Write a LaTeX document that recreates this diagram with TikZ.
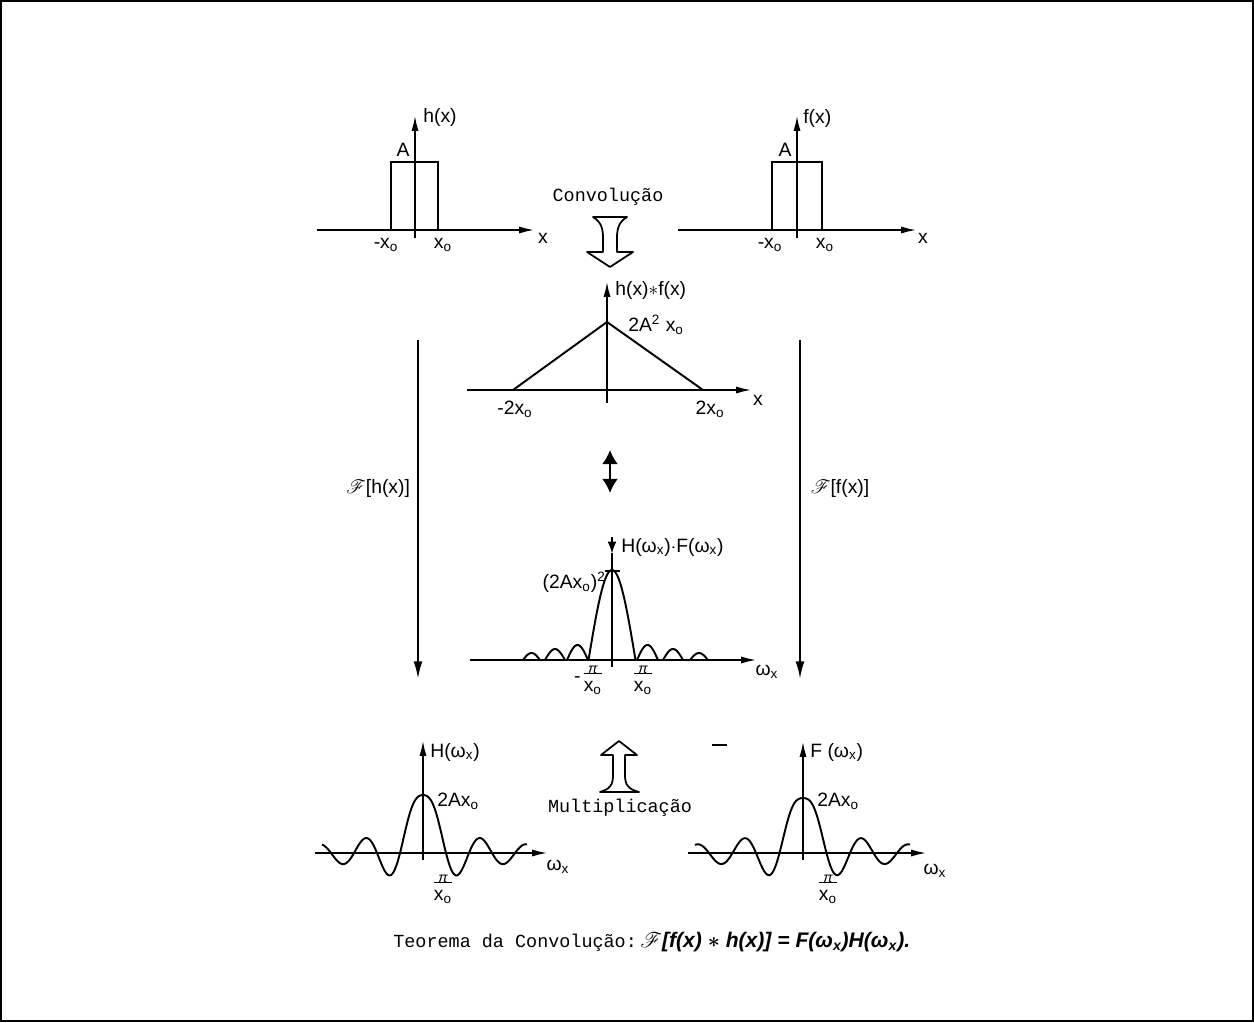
\documentclass[tikz,border=0pt]{standalone}
\usepackage{fontspec}
\setmainfont{Liberation Sans}
\setmonofont{Liberation Mono}
\usepackage{mathrsfs}
\usetikzlibrary{arrows.meta}
\newcommand{\xo}{x\textsubscript{o}}
\newcommand{\wx}{ω\textsubscript{x}}
\newcommand{\pix}{\begin{tabular}{@{}c@{}}{\footnotesize\itshape π}\\[-4pt]\hline\rule{0pt}{10pt}\xo\end{tabular}}
\tikzset{
  axis/.style={line width=1.2pt,-{Latex[length=9pt,width=4pt]}},
  curve/.style={line width=1.1pt},
  lab/.style={font=\fontsize{11}{13}\selectfont, inner sep=0pt},
  ttlab/.style={font=\ttfamily\fontsize{10.5}{12}\selectfont, inner sep=0pt},
  bigarrow/.style={line width=1pt, line join=round},
  longarrow/.style={line width=1.2pt,-{Latex[length=10pt,width=5pt]}}
}
\begin{document}
\begin{tikzpicture}[x=0.02cm,y=-0.02cm]
\useasboundingbox (0,0) rectangle (1254,1022);
\draw[line width=1.4pt] (1,1) rectangle (1253,1021);

% ---------- top left: h(x)
\draw[axis] (317,230) -- (535,230);
\draw[axis] (415,238) -- (415,115);
\draw[curve] (391,230) -- (391,162) -- (438,162) -- (438,230);
\node[lab,anchor=west] (hxl) at (423,117) {h(x)};
\node[lab] (hA) at (403,150) {A};
\node[lab] (hxa) at (543,238) {x};
\node[lab] (hm) at (386,245) {-\xo};
\node[lab] (hp) at (443,245) {\xo};

% ---------- top right: f(x)
\draw[axis] (678,230) -- (917,230);
\draw[axis] (797,238) -- (797,115);
\draw[curve] (772,230) -- (772,162) -- (822,162) -- (822,230);
\node[lab,anchor=west] (fxl) at (803,118) {f(x)};
\node[lab] (fA) at (785,150) {A};
\node[lab] (fxa) at (923,238) {x};
\node[lab] (fm) at (770,245) {-\xo};
\node[lab] (fp) at (825,245) {\xo};

% ---------- Convolucao arrow
\node[ttlab] (conv) at (608,197) {Convolução};
\draw[bigarrow] (593,217) -- (627,217) .. controls (619,222) and (617,228) .. (617,238)
  -- (617,252) -- (633,252) -- (610,267) -- (587,252) -- (603,252) -- (603,238)
  .. controls (603,228) and (601,222) .. (593,217) -- cycle;

% ---------- middle triangle
\draw[axis] (467,390) -- (752,390);
\draw[axis] (607,403) -- (607,281);
\draw[curve] (513,390) -- (607,322) -- (703,390);
\node[lab,anchor=west] (conl) at (615,290) {h(x)$*$f(x)};
\node[lab,anchor=west] (tpk) at (628,325) {2A\textsuperscript{2} \xo};
\node[lab] (txa) at (758,400) {x};
\node[lab] (tm) at (515,409) {-2\xo};
\node[lab] (tp) at (710,409) {2\xo};

% ---------- double arrow
\coordinate (da1) at (610,450);
\coordinate (da2) at (610,493);
\draw[line width=1.2pt,{Latex[length=8pt,width=9pt]}-{Latex[length=8pt,width=9pt]}] (da1) -- (da2);

% ---------- long vertical arrows
\coordinate (la1) at (418,340);
\coordinate (la2) at (418,679);
\coordinate (ra1) at (800,340);
\coordinate (ra2) at (800,679);
\draw[longarrow] (la1) -- (la2);
\draw[longarrow] (ra1) -- (ra2);
\node[lab] (fh) at (378,488) {$\mathscr{F}$[h(x)]};
\node[lab] (ff) at (840,488) {$\mathscr{F}$[f(x)]};

% ---------- middle spectrum
\draw[axis] (470,660) -- (757,660);
\draw[line width=1.4pt] (612,667) -- (612,553);
\draw[line width=1.2pt,-{Latex[length=7pt,width=5pt]}] (612,537) -- (612,554);
\node[lab,anchor=west] (prl) at (621,547) {H(\wx)$\cdot$F(\wx)};
\draw[curve] plot[domain=-23.5:23.5,samples=50] ({612+\x},{660-90*cos(3.83*\x)});
\draw[line width=1.4pt] (605,571) -- (620,571);
\draw[curve] plot[domain=0:180,samples=25] ({567+21*\x/180},{660-15*sin(\x)});
\draw[curve] plot[domain=0:180,samples=25] ({545+20*\x/180},{660-11*sin(\x)});
\draw[curve] plot[domain=0:180,samples=25] ({523+17*\x/180},{660-7*sin(\x)});
\draw[curve] plot[domain=0:180,samples=25] ({637+21*\x/180},{660-15*sin(\x)});
\draw[curve] plot[domain=0:180,samples=25] ({663+20*\x/180},{660-11*sin(\x)});
\draw[curve] plot[domain=0:180,samples=25] ({690+18*\x/180},{660-7*sin(\x)});
\node[lab,anchor=east] (prpk) at (606,582) {(2A\xo)\textsuperscript{2}};
\node[lab] (prm) at (588,678) {-\,\pix};
\node[lab] (prp) at (643,678) {\pix};
\node[lab] (prx) at (767,672) {\wx};

% ---------- bottom left H(w)
\draw[axis] (315,853) -- (548,853);
\draw[axis] (423,860) -- (423,740);
\draw[curve] plot[domain=-101:-1,samples=100] ({423+\x},{853-58*sin(7.8261*\x)/(0.13659*\x)*(1+1.2*\x*\x/(\x*\x+600))})
  -- (423,795) -- plot[domain=1:104,samples=104] ({423+\x},{853-58*sin(7.8261*\x)/(0.13659*\x)*(1+1.2*\x*\x/(\x*\x+600))});
\node[lab,anchor=west] (Hl) at (430,752) {H(\wx)};
\node[lab,anchor=west] (Hpk) at (437,801) {2A\xo};
\node[lab] (Hpi) at (443,887) {\pix};
\node[lab] (Hx) at (558,867) {\wx};

% ---------- Multiplicacao arrow
\draw[bigarrow] (619,741) -- (637,755) -- (625,755) -- (625,775)
  .. controls (625,785) and (628,789) .. (639,792) -- (600,792)
  .. controls (610,789) and (613,785) .. (613,775) -- (613,755) -- (601,755) -- cycle;
\node[ttlab] (mult) at (620,808) {Multiplicação};

% ---------- bottom right F(w)
\draw[axis] (688,853) -- (927,853);
\draw[axis] (803,860) -- (803,741);
\draw[curve] plot[domain=-108:-1,samples=108] ({803+\x},{853-55*sin(7.6596*\x)/(0.13368*\x)*(1+1.3*\x*\x/(\x*\x+600))})
  -- (803,798) -- plot[domain=1:107,samples=107] ({803+\x},{853-55*sin(7.6596*\x)/(0.13368*\x)*(1+1.3*\x*\x/(\x*\x+600))});
\node[lab,anchor=west] (Fl) at (810,752) {F (\wx)};
\node[lab,anchor=west] (Fpk) at (817,801) {2A\xo};
\node[lab] (Fpi) at (828,887) {\pix};
\node[lab] (Fx) at (935,871) {\wx};
\draw[line width=1.5pt] (712,745) -- (727,745);

% ---------- caption
\node[inner sep=0pt,anchor=west] (cap) at (393,942)
  {\ttfamily\fontsize{10.5}{12}\selectfont Teorema da Convolução:\rmfamily\bfseries\itshape\fontsize{12}{14}\selectfont\,$\mathscr{F}$[f(x) {\boldmath$\ast$} h(x)] = F(ω\textsubscript{x})H(ω\textsubscript{x}).};
\end{tikzpicture}
\end{document}
